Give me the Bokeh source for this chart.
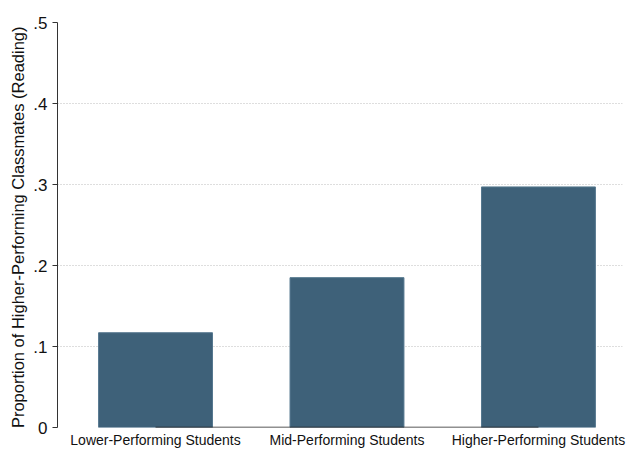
from bokeh.plotting import figure
from bokeh.models import Range1d, FixedTicker, ColumnDataSource
from bokeh.embed import file_html
from bokeh.resources import INLINE

categories = ["Lower-Performing Students", "Mid-Performing Students", "Higher-Performing Students"]
values = [0.117, 0.185, 0.297]
y_ticks = [0, 0.1, 0.2, 0.3, 0.4, 0.5]
y_tick_labels = ["0", ".1", ".2", ".3", ".4", ".5"]
y_title = "Proportion of  Higher-Performing Classmates (Reading)"

positions = list(range(len(categories)))
src = ColumnDataSource(dict(x=positions, top=values))

FONT = "Liberation Sans"
BAR = "#3e6179"

p = figure(width=626, height=450, output_backend="svg", toolbar_location=None,
           x_range=Range1d(-0.512, 2.439), y_range=Range1d(0, 0.5),
           min_border_left=57, min_border_right=4, min_border_top=22, min_border_bottom=22)
p.outline_line_color = None
p.background_fill_color = "white"
p.border_fill_color = "white"

p.vbar(x="x", top="top", bottom=0, width=0.595, source=src,
       fill_color=BAR, line_color="#56788f", line_width=1)
p.segment(x0=[positions[0]], y0=[0], x1=[positions[-1]], y1=[0],
          line_color="#222222", line_width=1.3)

p.xgrid.grid_line_color = None
p.ygrid.ticker = FixedTicker(ticks=y_ticks)
p.ygrid.grid_line_color = "#bdbdbd"
p.ygrid.grid_line_dash = "1 2"
p.ygrid.grid_line_width = 1

ya = p.yaxis[0]
ya.ticker = FixedTicker(ticks=y_ticks)
ya.major_label_overrides = {t: l for t, l in zip(y_ticks, y_tick_labels)}
ya.minor_tick_line_color = None
ya.major_tick_out = 5
ya.major_tick_in = 0
ya.axis_line_color = "#333333"
ya.major_tick_line_color = "#333333"
ya.major_label_text_font = FONT
ya.major_label_text_font_size = "17px"
ya.major_label_text_color = "#111111"
ya.major_label_standoff = 5
ya.axis_label = y_title
ya.axis_label_text_font = FONT
ya.axis_label_text_font_size = "16.5px"
ya.axis_label_text_font_style = "normal"
ya.axis_label_text_color = "#111111"
ya.axis_label_standoff = 3

xa = p.xaxis[0]
xa.ticker = FixedTicker(ticks=positions)
xa.major_label_overrides = {i: c for i, c in zip(positions, categories)}
xa.axis_line_color = None
xa.major_tick_line_color = None
xa.minor_tick_line_color = None
xa.major_tick_out = 0
xa.major_tick_in = 0
xa.major_label_text_font = FONT
xa.major_label_text_font_size = "14px"
xa.major_label_text_color = "#111111"
xa.major_label_standoff = 4

open("out.html", "w").write(file_html(p, INLINE))
